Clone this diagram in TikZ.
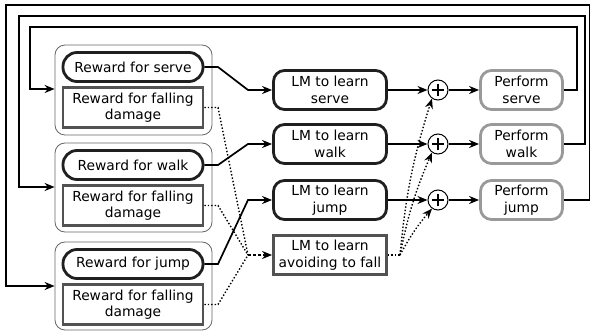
\documentclass[tikz,border=0pt]{standalone}
\usepackage{fontspec}
\setmainfont{DejaVu Sans}
\usetikzlibrary{arrows.meta}
\begin{document}
\begin{tikzpicture}[x=1pt,y=-1pt,
  font=\fontsize{13.8}{16.5}\selectfont,
  grp/.style={draw=black!60,line width=0.8pt,rounded corners=10pt,minimum width=157pt,inner sep=0pt},
  rwd/.style={draw=black!88,line width=2.8pt,rounded corners=14pt,minimum width=140pt,minimum height=29pt,inner sep=1pt},
  fall/.style={draw=black!68,line width=2.8pt,minimum width=140pt,minimum height=40pt,align=center,inner sep=1pt},
  lm/.style={draw=black!88,line width=2.8pt,rounded corners=11pt,minimum width=113pt,minimum height=39pt,align=center,inner sep=1pt},
  avoid/.style={draw=black!68,line width=2.8pt,minimum width=113pt,minimum height=39pt,align=center,inner sep=1pt},
  perf/.style={draw=black!40,line width=2.8pt,rounded corners=11pt,minimum width=82pt,minimum height=39pt,align=center,inner sep=1pt},
  plus/.style={draw=black,line width=1pt,circle,minimum size=20pt,inner sep=0pt},
  arr/.style={line width=1.7pt,-{Stealth[length=10pt,width=8pt]}},
  dot/.style={line width=1.4pt,dotted,-{Stealth[length=10pt,width=8pt]}},
  dotl/.style={line width=1.4pt,dotted},
  loop/.style={line width=2.2pt,-{Stealth[length=10pt,width=8pt]}}
]
\useasboundingbox (0,0) rectangle (590,331);
% groups
\node[grp,minimum height=90pt] (g1) at (133.5,90) {};
\node[grp,minimum height=89pt] (g2) at (133.5,187.5) {};
\node[grp,minimum height=88pt] (g3) at (133.5,286) {};
% rewards
\node[rwd] (rs) at (133,67) {Reward for serve};
\node[fall] (f1) at (133,107.5) {Reward for falling\\damage};
\node[rwd] (rw) at (133,165) {Reward for walk};
\node[fall] (f2) at (133,205.5) {Reward for falling\\damage};
\node[rwd] (rj) at (133,264) {Reward for jump};
\node[fall] (f3) at (133,304.5) {Reward for falling\\damage};
% LMs
\node[lm] (ls) at (330,90) {LM to learn\\serve};
\node[lm] (lw) at (330,144) {LM to learn\\walk};
\node[lm] (lj) at (330,200) {LM to learn\\jump};
\node[avoid] (la) at (330,255) {LM to learn\\avoiding to fall};
% plus
\node[plus] (p1) at (438,90) {};
\node[plus] (p2) at (438,144) {};
\node[plus] (p3) at (438,200) {};
\foreach \p in {p1,p2,p3}{
  \draw[line width=1.7pt] ([xshift=-6pt]\p.center) -- ([xshift=6pt]\p.center);
  \draw[line width=1.7pt] ([yshift=-6pt]\p.center) -- ([yshift=6pt]\p.center);
}
% performs
\node[perf] (ps) at (521.5,90) {Perform\\serve};
\node[perf] (pw) at (521.5,144) {Perform\\walk};
\node[perf] (pj) at (521.5,200) {Perform\\jump};
% reward -> LM
\draw[arr] (rs.east) -- (218,67) -- (248,90) -- (ls.west);
\draw[arr] (rw.east) -- (218,165) -- (248,144) -- (lw.west);
\draw[arr] (rj.east) -- (218,264) -- (248,200) -- (lj.west);
% falling -> avoid
\coordinate (fm) at (248,255);
\draw[dotl] (f1.east) -- (218,107.5) -- (fm);
\draw[dotl] (f2.east) -- (218,205.5) -- (fm);
\draw[dotl] (f3.east) -- (218,304.5) -- (fm);
\draw[line width=1.5pt,dash pattern=on 3pt off 2pt,-{Stealth[length=10pt,width=8pt]}] (fm) -- (la.west);
% LM -> plus -> perform
\draw[arr] (ls.east) -- (p1.west);
\draw[arr] (lw.east) -- (p2.west);
\draw[arr] (lj.east) -- (p3.west);
\draw[arr] (p1.east) -- (ps.west);
\draw[arr] (p2.east) -- (pw.west);
\draw[arr] (p3.east) -- (pj.west);
% avoid -> plus
\coordinate (am) at (400,255);
\draw[dotl] (la.east) -- (am);
\draw[dot] (am) to[bend left=6] (p1.235);
\draw[dot] (am) to[bend left=6] (p2.235);
\draw[dot] (am) to[bend left=6] (p3.235);
% loops
\draw[loop] (ps.east) -- (577,90) -- (577,27) -- (30,27) -- (30,89) -- (g1.west |- 0,89);
\draw[loop] (pw.east) -- (585,144) -- (585,16) -- (19,16) -- (19,187) -- (g2.west |- 0,187);
\draw[loop] (pj.east) -- (590,200) -- (590,5) -- (6,5) -- (6,286) -- (g3.west |- 0,286);
\end{tikzpicture}
\end{document}
